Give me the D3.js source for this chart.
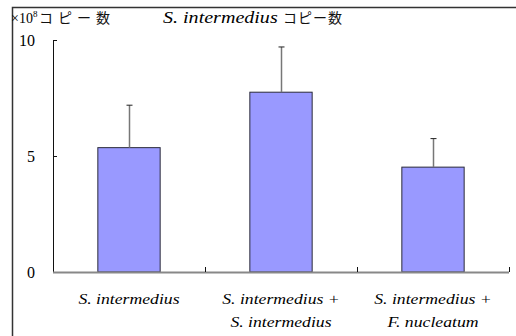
<!DOCTYPE html>
<html>
<head>
<meta charset="utf-8">
<script src="https://cdn.jsdelivr.net/npm/d3@7"></script>
</head>
<body style="margin:0;background:#fff">
<svg id="chart" width="516" height="336" style="display:block;font-family:'Liberation Serif'"></svg>
<script>
// chart values
const groups = ["S. intermedius", "S. intermedius + S. intermedius", "S. intermedius + F. nucleatum"];
const labelLines = [["S. intermedius"], ["S. intermedius +", "S. intermedius"], ["S. intermedius +", "F. nucleatum"]];
const means = [5.36, 7.75, 4.52];
const errors = [1.83, 1.95, 1.23];
const yTicks = [0, 5, 10];

const SERIF = "'Liberation Serif', 'Times New Roman', serif";
const JP = "'Noto Sans CJK JP'";

const svg = d3.select("#chart");
const width = 516, height = 336;
const margin = { left: 53, top: 40, right: 7, bottom: 64 };
const stretch = 1.18; // original text is drawn a bit wider than the font

// outer frame (only top and left visible)
svg.append("path")
   .attr("d", `M12.5,${height} V7.5 H${width}`)
   .attr("fill", "none")
   .attr("stroke", "#333")
   .attr("stroke-width", 1.5);

let xScale = d3.scaleBand()
               .domain(groups)
               .range([margin.left, width - margin.right])
               .paddingInner(0.59)
               .paddingOuter(0.295);

let yScale = d3.scaleLinear()
               .domain([0, 10])
               .range([height - margin.bottom, margin.top]);

// bars
svg.selectAll("rect.bar")
   .data(groups)
   .enter()
   .append("rect")
     .attr("class", "bar")
     .attr("x", d => xScale(d))
     .attr("y", (d, i) => yScale(means[i]))
     .attr("width", xScale.bandwidth())
     .attr("height", (d, i) => yScale(0) - yScale(means[i]))
     .attr("fill", "#9999ff")
     .attr("stroke", "#2a2a3a")
     .attr("stroke-width", 1);

// error bars (upper only)
let err = svg.append("g");
groups.forEach((g, i) => {
    let cx = Math.round(xScale(g) + xScale.bandwidth() / 2) + 0.5;
    err.append("line")
       .attr("x1", cx).attr("x2", cx)
       .attr("y1", yScale(means[i]))
       .attr("y2", yScale(means[i] + errors[i]))
       .attr("stroke", "#777").attr("stroke-width", 1.5);
    err.append("line")
       .attr("x1", cx - 3).attr("x2", cx + 3)
       .attr("y1", yScale(means[i] + errors[i]))
       .attr("y2", yScale(means[i] + errors[i]))
       .attr("stroke", "#222").attr("stroke-width", 1);
});

// y axis
let yAxis = svg.append("g")
   .attr("transform", `translate(${margin.left},0)`)
   .call(d3.axisRight(yScale).tickValues(yTicks).tickSize(4).tickFormat(d3.format("d")));
yAxis.attr("font-family", SERIF).attr("font-size", 16);
yAxis.select(".domain").attr("d", `M0.5,${yScale(10)}V${yScale(0)}`).attr("stroke", "#111");
yAxis.selectAll(".tick line").attr("stroke", "#111");
yAxis.selectAll(".tick text")
     .attr("x", -18)
     .attr("text-anchor", "end")
     .attr("dy", "0.32em")
     .attr("font-family", SERIF)
     .style("font-family", SERIF)
     .style("font-size", "16px")
     .attr("fill", "#000");

// x axis
svg.append("line")
   .attr("x1", margin.left).attr("x2", width - margin.right)
   .attr("y1", yScale(0) + 0.5).attr("y2", yScale(0) + 0.5)
   .attr("stroke", "#888").attr("stroke-width", 2);
// boundary ticks between categories
let bounds = [1, 2, 3].map(k => margin.left + k * (width - margin.right - margin.left) / 3);
svg.selectAll("line.bt")
   .data(bounds)
   .enter()
   .append("line")
     .attr("x1", d => Math.round(d) + 0.5).attr("x2", d => Math.round(d) + 0.5)
     .attr("y1", yScale(0)).attr("y2", yScale(0) - 5)
     .attr("stroke", "#111");

// category labels
groups.forEach((g, i) => {
    let cx = xScale(g) + xScale.bandwidth() / 2;
    labelLines[i].forEach((t, j) => {
        svg.append("text")
           .attr("transform", `translate(${cx},${304 + j * 23}) scale(${stretch},1)`)
           .attr("text-anchor", "middle")
           .attr("font-family", SERIF)
           .style("font-family", SERIF)
           .style("font-size", "15px")
           .style("font-style", "italic")
           .attr("fill", "#000")
           .text(t);
    });
});

// unit label
let unit = svg.append("text")
   .attr("x", 11).attr("y", 23)
   .attr("font-family", SERIF)
   .style("font-family", SERIF)
   .style("font-size", "14px").attr("fill", "#000");
unit.append("tspan").text("×10");
unit.append("tspan").attr("dy", -6).style("font-size", "9px").text("8");
svg.append("text")
   .attr("x", 39).attr("y", 23)
   .style("font-family", JP)
   .style("letter-spacing", "5px")
   .style("font-size", "14px").attr("fill", "#111").text("コピー数");

// title
svg.append("text")
   .attr("transform", `translate(163,23) scale(${stretch},1)`)
   .attr("font-family", SERIF)
   .style("font-family", SERIF)
   .style("font-size", "17px").style("font-style", "italic")
   .attr("fill", "#000").text("S. intermedius");
svg.append("text")
   .attr("x", 283).attr("y", 23)
   .style("font-family", JP)
   .style("letter-spacing", "1px")
   .style("font-size", "14px").attr("fill", "#111").text("コピー数");
</script>
</body>
</html>
